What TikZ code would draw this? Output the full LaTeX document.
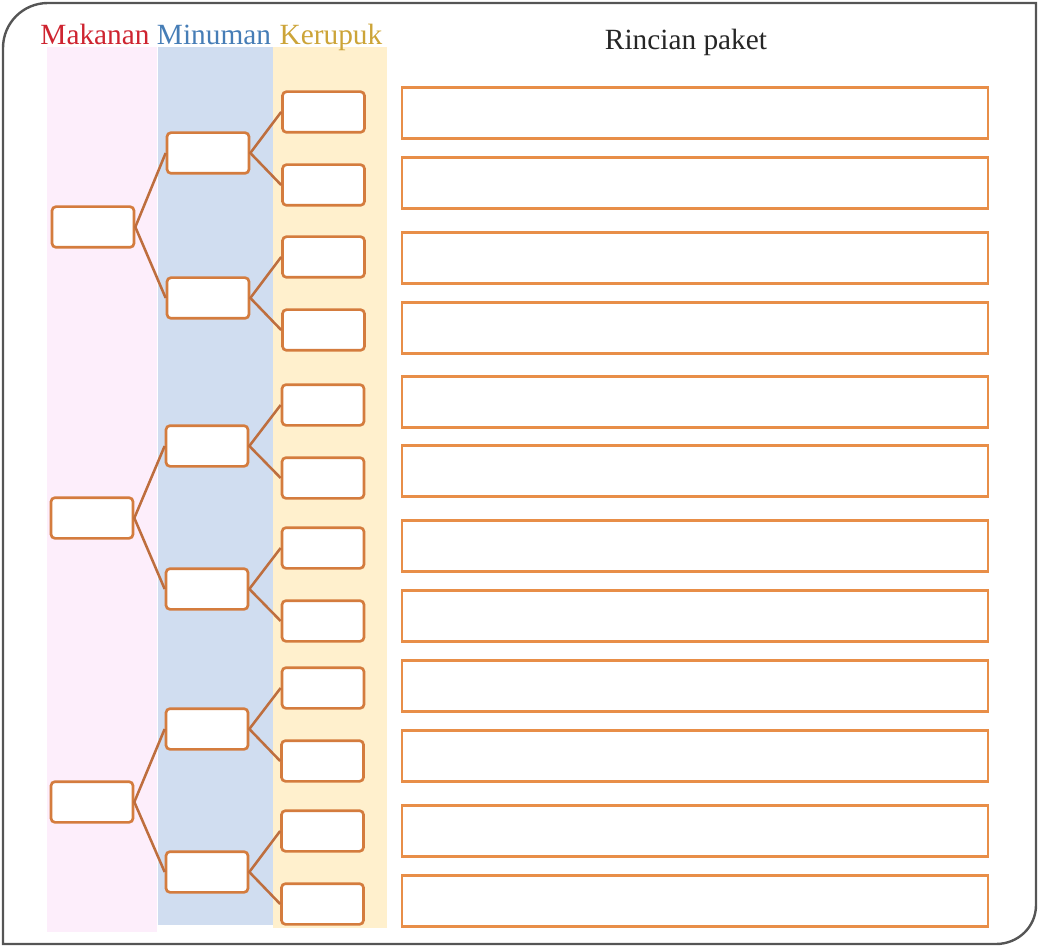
\documentclass[tikz,border=0pt]{standalone}
\usepackage{fontspec}
\setmainfont{Liberation Serif}
\usetikzlibrary{positioning}
\definecolor{boxorange}{RGB}{212,124,62}
\definecolor{linkbrown}{RGB}{190,110,62}
\definecolor{rowborder}{RGB}{232,142,72}
\definecolor{pinkcol}{RGB}{253,238,251}
\definecolor{bluecol}{RGB}{208,221,240}
\definecolor{yellowcol}{RGB}{255,240,205}
\definecolor{mkred}{RGB}{206,36,48}
\definecolor{mnblue}{RGB}{70,125,182}
\definecolor{kryellow}{RGB}{204,164,56}
\definecolor{framegray}{RGB}{85,85,85}

\begin{document}
\begin{tikzpicture}[x=0.75pt, y=-0.75pt,
  tbox/.style={draw=boxorange, line width=2pt, rounded corners=3pt, fill=white, minimum width=61.5pt, minimum height=30.5pt, inner sep=0pt},
  rbox/.style={draw=rowborder, line width=1.8pt, fill=white, minimum width=439.5pt, minimum height=38pt, inner sep=0pt},
  link/.style={draw=linkbrown, line width=1.9pt},
  head/.style={font=\fontsize{22}{24}\selectfont, anchor=base}]
\useasboundingbox (0,0) rectangle (1038,948);
% frame
\draw[framegray, line width=1.8pt] (3,944) -- (3,48) .. controls (3,23) and (23,3) .. (48,3)
  -- (1036,3) -- (1036,905) .. controls (1036,927) and (1018,944) .. (996,944) -- cycle;
% columns
\fill[pinkcol] (47,47) rectangle (157,932);
\fill[bluecol] (158,47) rectangle (273,925);
\fill[yellowcol] (273,47) rectangle (387,928);
% headings
\node[head, text=mkred] (hmk) at (95,45) {Makanan};
\node[head, text=mnblue] (hmn) at (214,45) {Minuman};
\node[head, text=kryellow] (hkr) at (331,45) {Kerupuk};
\node[head, text=black!85] (hrp) at (686,50) {Rincian paket};
% makanan
\node[tbox] (mk1) at (93,227) {};
\node[tbox] (mk2) at (92,518) {};
\node[tbox] (mk3) at (92,802) {};
% minuman
\node[tbox] (mn1) at (208,153) {};
\node[tbox] (mn2) at (208,298) {};
\node[tbox] (mn3) at (207,446) {};
\node[tbox] (mn4) at (207,589) {};
\node[tbox] (mn5) at (207,729) {};
\node[tbox] (mn6) at (207,872) {};
% kerupuk
\node[tbox] (kr1) at (323.5,112) {};
\node[tbox] (kr2) at (323.5,185) {};
\node[tbox] (kr3) at (323.5,257) {};
\node[tbox] (kr4) at (323.5,330) {};
\node[tbox] (kr5) at (323,405) {};
\node[tbox] (kr6) at (323,478) {};
\node[tbox] (kr7) at (323,548) {};
\node[tbox] (kr8) at (323,621) {};
\node[tbox] (kr9) at (323,688) {};
\node[tbox] (kr10) at (322.5,761) {};
\node[tbox] (kr11) at (322.5,831) {};
\node[tbox] (kr12) at (322.5,904) {};
% rincian paket
\node[rbox] (rp1) at (695,113) {};
\node[rbox] (rp2) at (695,183) {};
\node[rbox] (rp3) at (695,258) {};
\node[rbox] (rp4) at (695,328) {};
\node[rbox] (rp5) at (695,402) {};
\node[rbox] (rp6) at (695,471) {};
\node[rbox] (rp7) at (695,546) {};
\node[rbox] (rp8) at (695,616) {};
\node[rbox] (rp9) at (695,686) {};
\node[rbox] (rp10) at (695,756) {};
\node[rbox] (rp11) at (695,831) {};
\node[rbox] (rp12) at (695,901) {};
% links
\draw[link] (mn1.west) -- (mk1.east) -- (mn2.west);
\draw[link] (mn3.west) -- (mk2.east) -- (mn4.west);
\draw[link] (mn5.west) -- (mk3.east) -- (mn6.west);
\draw[link] (kr1.west) -- (mn1.east) -- (kr2.west);
\draw[link] (kr3.west) -- (mn2.east) -- (kr4.west);
\draw[link] (kr5.west) -- (mn3.east) -- (kr6.west);
\draw[link] (kr7.west) -- (mn4.east) -- (kr8.west);
\draw[link] (kr9.west) -- (mn5.east) -- (kr10.west);
\draw[link] (kr11.west) -- (mn6.east) -- (kr12.west);
\end{tikzpicture}
\end{document}
